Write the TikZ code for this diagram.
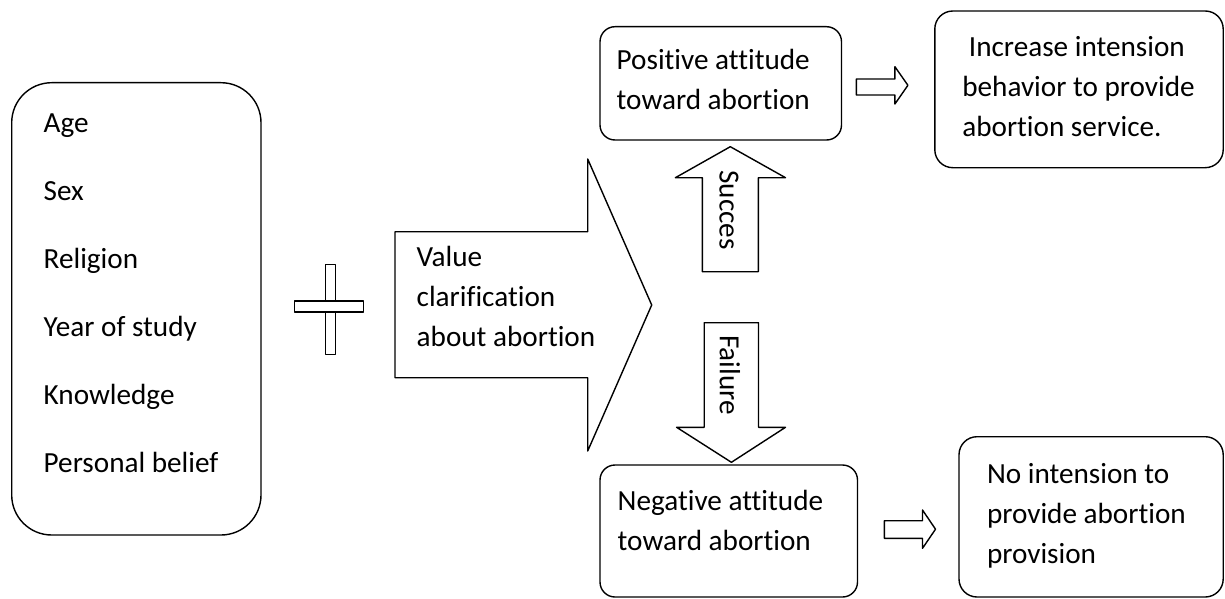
\documentclass[tikz,border=0pt]{standalone}
\usepackage{fontspec}
\setmainfont{Carlito}[Ligatures=NoCommon]
\usetikzlibrary{fit}
\begin{document}
\begin{tikzpicture}[x=0.5pt,y=-0.5pt,line width=0.7pt,line join=round,
    font=\fontsize{14.6}{20}\selectfont,
    box/.style={draw,inner sep=0pt,rounded corners=#1},box/.default=7.5pt,
    txt/.style={anchor=base west,align=left,inner sep=0pt},
    hollow/.style={draw,fill=white}]
    \useasboundingbox (0,0) rectangle (1225,599);
    \node[box=20pt,fit={(11.7,82.7) (261,535)}] (lst) {};
    \foreach \t [count=\i from 0] in {Age,Sex,Religion,Year of study,Knowledge,Personal belief}
        \node[txt] (lst\i) at (43,132.3+68*\i) {\t};
    \draw[hollow] (325.7,264.3) rectangle (335.7,354.3);
    \draw[hollow] (294.7,301) rectangle (363.3,312);
    \draw[hollow] (395,231.7)--(587.7,231.7)--(587.7,159)--(651.7,305)--(587.7,451)--(587.7,377.7)--(395,377.7)--cycle;
    \node[txt] (val) at (416,346.7) {Value\\clarification\\about abortion};
    \draw[hollow] (702.3,271.7)--(702.3,177.7)--(675.4,177.7)--(730.3,146.7)--(785.5,177.7)--(758.3,177.7)--(758.3,271.7)--cycle;
    \node[rotate=-90,inner sep=0pt] (succ) at (729,210) {Succes};
    \draw[hollow] (704.2,322.7)--(704.2,427.3)--(676.6,427.3)--(731.4,462.3)--(785.5,427.3)--(758.5,427.3)--(758.5,322.7)--cycle;
    \node[rotate=-90,inner sep=0pt] (fail) at (730,375) {Failure};
    \node[box,fit={(600,26.7) (841.5,140)}] (pos) {};
    \node[txt] (postxt) at (616,110) {Positive attitude\\toward abortion};
    \node[box,fit={(600,465) (857.5,597)}] (neg) {};
    \node[txt] (negtxt) at (617,550) {Negative attitude\\toward abortion};
    \node[box=9pt,fit={(934.8,11) (1223.2,167.7)}] (inc) {};
    \node[txt] (inctxt) at (961.6,136.7) {\ Increase intension\\behavior to provide\\abortion service.};
    \node[box=9pt,fit={(959,436.7) (1223.2,597)}] (noi) {};
    \node[txt] (noitxt) at (986.3,563.3) {No intension to\\provide abortion\\provision};
    \draw[hollow] (856.4,79)--(894.9,79)--(894.9,66.7)--(907.9,85.3)--(894.9,104)--(894.9,95)--(856.4,95)--cycle;
    \draw[hollow] (884.4,520.7)--(922.5,520.7)--(922.5,510)--(935.5,529.2)--(922.5,548.3)--(922.5,538.3)--(884.4,538.3)--cycle;
\end{tikzpicture}
\end{document}
